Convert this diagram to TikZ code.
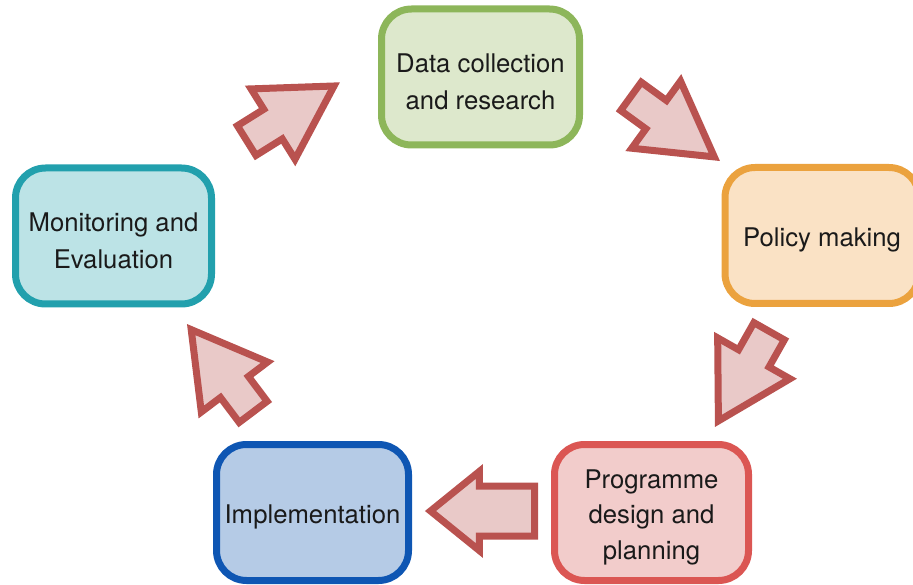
\documentclass[tikz,border=0pt]{standalone}
\usepackage{fontspec}
\setmainfont{TeX Gyre Heros}
\usetikzlibrary{positioning, shapes.arrows}

\definecolor{datab}{HTML}{8DB65A}
\definecolor{dataf}{HTML}{DDE8CC}
\definecolor{policyb}{HTML}{EBA23E}
\definecolor{policyf}{HTML}{FAE2C5}
\definecolor{progb}{HTML}{DB5653}
\definecolor{progf}{HTML}{F2CCCB}
\definecolor{implb}{HTML}{0E56B3}
\definecolor{implf}{HTML}{B5CBE6}
\definecolor{monb}{HTML}{22A0AD}
\definecolor{monf}{HTML}{BCE3E6}
\definecolor{arrowline}{HTML}{B9524F}
\definecolor{arrowfill}{HTML}{E9C9C8}
\definecolor{txt}{HTML}{1A1A1A}

\newcommand{\tallstrut}{\rule{0pt}{28pt}}

\begin{document}
\begin{tikzpicture}[x=1pt, y=-1pt, stage/.style={rectangle, rounded corners=30pt, draw, line width=7pt, minimum width=196pt, minimum height=136pt, align=center, inner sep=0pt, text=txt, font=\fontsize{25.7}{37}\selectfont}, flow/.style={single arrow, draw=arrowline, fill=arrowfill, line width=7pt, inner xsep=0pt, inner ysep=14pt, outer sep=0pt, anchor=tip, minimum height=103pt, minimum width=76pt, single arrow head extend=24pt, single arrow tip angle=60}, wide/.style={inner ysep=21.5pt, minimum height=104pt, minimum width=72pt, single arrow head extend=14.5pt, single arrow tip angle=78}]

\useasboundingbox (0,0) rectangle (913,585);

\node[stage, draw=datab, fill=dataf, minimum width=198pt] at (480.5,77) (data) {\tallstrut Data collection\\and research};
\node[stage, draw=policyb, fill=policyf, minimum width=194pt] at (822,235.5) (policy) {\tallstrut Policy making};
\node[stage, draw=progb, fill=progf, minimum width=194pt, font=\fontsize{25.7}{35.5}\selectfont] at (651.5,512.5) (prog) {\tallstrut Programme\\design and\\planning};
\node[stage, draw=implb, fill=implf, minimum width=192pt] at (312.5,512.5) (impl) {\tallstrut Implementation};
\node[stage, draw=monb, fill=monf] at (113.5,236) (mon) {\tallstrut Monitoring and\\Evaluation};

\node[flow, rotate=32] at (334,86) (mon-data) {};
\node[flow, rotate=-36] at (714.3,156.9) (data-policy) {};
\node[flow, rotate=-119.5] at (718.4,420.9) (policy-prog) {};
\node[flow, rotate=127] at (191.2,329.6) (impl-mon) {};
\node[flow, wide, rotate=180] at (430.5,511) (prog-impl) {};
\end{tikzpicture}
\end{document}
